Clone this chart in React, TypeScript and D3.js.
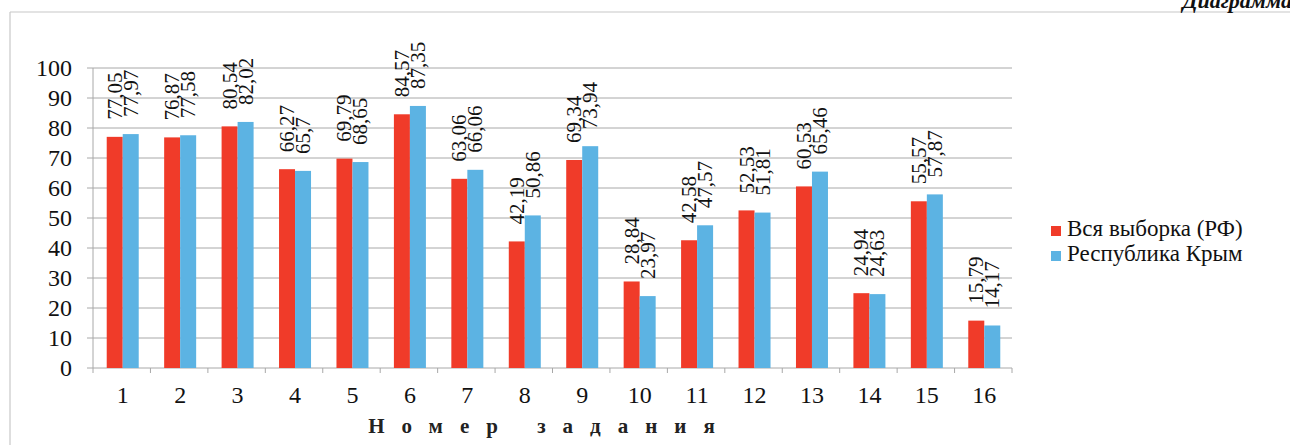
import React from "react";
import * as d3 from "d3";

const categories = ["1","2","3","4","5","6","7","8","9","10","11","12","13","14","15","16"];
const rfValues = [77.05,76.87,80.54,66.27,69.79,84.57,63.06,42.19,69.34,28.84,42.58,52.53,60.53,24.94,55.57,15.79];
const crimeaValues = [77.97,77.58,82.02,65.7,68.65,87.35,66.06,50.86,73.94,23.97,47.57,51.81,65.46,24.63,57.87,14.17];
const yTicks = [0,10,20,30,40,50,60,70,80,90,100];
const seriesNames = ["Вся выборка (РФ)", "Республика Крым"];
const colors = ["#f03b29", "#5cb3e3"];

const W = 1290, H = 445;
const M = { left: 93, right: 1012, top: 68, bottom: 368 };
const FONT = "'Liberation Serif', 'DejaVu Serif', serif";

const fmt = (v: number) => String(v).replace(".", ",");

export default function App() {
  const x = d3.scaleBand<string>().domain(categories).range([M.left, M.right]).paddingInner(0).paddingOuter(0);
  const y = d3.scaleLinear().domain([0, 100]).range([M.bottom, M.top]);
  const bw = 16;
  const series = [rfValues, crimeaValues];

  return (
    <svg width={W} height={H} style={{ position: "absolute", left: 0, top: 0, background: "#fff", fontFamily: FONT }}>
      <rect x={0} y={0} width={W} height={H} fill="#fff" />
      <line x1={10} y1={12} x2={W} y2={12} stroke="#c8c8c8" strokeWidth={1.2} />
      <line x1={10} y1={12} x2={10} y2={H} stroke="#c8c8c8" strokeWidth={1.2} />
      <text x={W + 2} y={8} textAnchor="end" fontSize={22} fontWeight="bold" fontStyle="italic" fill="#111" style={{ fontFamily: FONT }}>Диаграмма</text>

      {yTicks.map(t => (
        <g key={t}>
          <line x1={M.left - 6} x2={M.right} y1={y(t)} y2={y(t)} stroke="#a8a8a8" strokeWidth={1} />
          <text x={72} y={y(t) + 8} textAnchor="end" fontSize={24} fill="#111" style={{ fontFamily: FONT }}>{t}</text>
        </g>
      ))}
      <line x1={M.left} x2={M.left} y1={M.top} y2={M.bottom} stroke="#a8a8a8" strokeWidth={1} />
      {categories.map((c) => (
        <line key={"t" + c} x1={(x(c) as number)} x2={(x(c) as number)} y1={M.bottom} y2={M.bottom + 5} stroke="#a8a8a8" />
      ))}
      <line x1={M.right} x2={M.right} y1={M.bottom} y2={M.bottom + 5} stroke="#a8a8a8" />

      {categories.map((c, i) => {
        const cx = (x(c) as number) + x.bandwidth() / 2 + 1;
        return (
          <g key={c}>
            {series.map((s, k) => (
              <rect key={k} x={cx - bw + k * bw} y={y(s[i])} width={bw} height={y(0) - y(s[i])} fill={colors[k]} />
            ))}
            {series.map((s, k) => {
              const lx = cx - bw / 2 + k * bw + 7;
              const ly = y(s[i]) - 17;
              return (
                <text key={"l" + k} transform={`translate(${lx},${ly}) rotate(-90)`} fontSize={21} fill="#111" style={{ fontFamily: FONT }}>{fmt(s[i])}</text>
              );
            })}
            <text x={cx} y={403} textAnchor="middle" fontSize={24} fill="#111" style={{ fontFamily: FONT }}>{c}</text>
          </g>
        );
      })}

      <text x={550} y={433} textAnchor="middle" fontSize={21} fontWeight="bold" letterSpacing={17} fill="#222" style={{ fontFamily: FONT }}>Номер  задания</text>

      {seriesNames.map((n, k) => (
        <g key={n}>
          <rect x={1051} y={226 + k * 25} width={10} height={10} fill={colors[k]} />
          <text x={1067} y={236 + k * 25} fontSize={23} fill="#111" style={{ fontFamily: FONT }}>{n}</text>
        </g>
      ))}
    </svg>
  );
}
